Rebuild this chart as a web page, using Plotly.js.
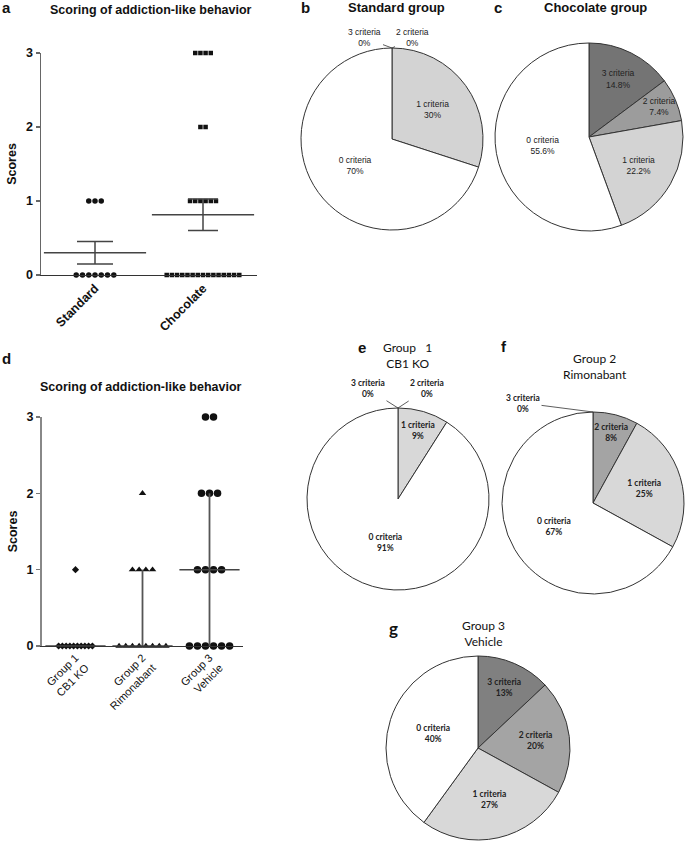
<!DOCTYPE html>
<html>
<head>
<meta charset="utf-8">
<script src="https://cdn.plot.ly/plotly-3.0.1.min.js"></script>
<style>html,body{margin:0;padding:0;background:#fff;}#chart{width:685px;height:841px;}</style>
</head>
<body>
<div id="chart"></div>
<script>
// ---------- DATA ----------
const groupsA = ['Standard', 'Chocolate'];
const standardScores = [0,0,0,0,0,0,0,1,1,1];
const chocolateScores = [0,0,0,0,0,0,0,0,0,0,0,0,0,0,0, 1,1,1,1,1,1, 2,2, 3,3,3,3];

const groupsD = ['Group 1<br>CB1 KO', 'Group 2<br>Rimonabant', 'Group 3<br>Vehicle'];
const group1Scores = [0,0,0,0,0,0,0,0,0,0, 1];
const group2Scores = [0,0,0,0,0,0,0,0, 1,1,1,1, 2];
const group3Scores = [0,0,0,0,0,0, 1,1,1,1, 2,2,2, 3,3];
const groupMedians = [0, 0, 1];
const groupQ1 = [0, 0, 0];
const groupQ3 = [0, 1, 2];

const criteriaLabels = ['3 criteria', '2 criteria', '1 criteria', '0 criteria'];
const pieStandard  = [0, 0, 30, 70];
const pieChocolate = [14.8, 7.4, 22.2, 55.6];
const pieGroup1    = [0, 0, 9, 91];
const pieGroup2    = [0, 8, 25, 67];
const pieGroup3    = [13, 20, 27, 40];

const yTicks = [0, 1, 2, 3];

// ---------- HELPERS ----------
const W = 685, H = 841;
const px = x => x / W;
const py = y => 1 - y / H;

function dotX(scores, center, step) {
  const counts = {}, seen = {};
  scores.forEach(s => { counts[s] = (counts[s] || 0) + 1; });
  return scores.map(s => {
    const k = seen[s] || 0;
    seen[s] = k + 1;
    return center + (k - (counts[s] - 1) / 2) * step;
  });
}
const mean = a => a.reduce((p, c) => p + c, 0) / a.length;
function sem(a) {
  const m = mean(a);
  const v = a.reduce((p, c) => p + (c - m) * (c - m), 0) / (a.length - 1);
  return Math.sqrt(v / a.length);
}

const ARIAL = 'Liberation Sans, Arial, sans-serif';
const CALI = 'Lato, Open Sans, sans-serif';
const DARK = '#111';

const traces = [];

// ---------- PANEL A ----------
traces.push({
  type: 'scatter', mode: 'markers', xaxis: 'x', yaxis: 'y', cliponaxis: false,
  x: dotX(standardScores, 0, 0.058), y: standardScores,
  marker: {symbol: 'circle', size: 5.5, color: DARK}, hoverinfo: 'skip'
});
traces.push({
  type: 'scatter', mode: 'markers', xaxis: 'x', yaxis: 'y', cliponaxis: false,
  x: dotX(chocolateScores, 1, 0.048), y: chocolateScores,
  marker: {symbol: 'square', size: 4.5, color: DARK}, hoverinfo: 'skip'
});
const scoreSets = [standardScores, chocolateScores];
const capWidths = [18, 15];
scoreSets.forEach((s, i) => {
  traces.push({
    type: 'scatter', mode: 'markers', xaxis: 'x', yaxis: 'y', cliponaxis: false,
    x: [i], y: [mean(s)],
    marker: {symbol: 'line-ew-open', size: 73, color: '#444', line: {width: 1.5, color: '#444'}},
    error_y: {type: 'data', array: [sem(s)], visible: true, width: capWidths[i], thickness: 1.5, color: '#444'},
    hoverinfo: 'skip'
  });
});

// ---------- PANEL D ----------
traces.push({
  type: 'scatter', mode: 'markers', xaxis: 'x2', yaxis: 'y2', cliponaxis: false,
  x: dotX(group1Scores, 0, 0.056), y: group1Scores,
  marker: {symbol: 'diamond', size: 5.5, color: DARK}, hoverinfo: 'skip'
});
traces.push({
  type: 'scatter', mode: 'markers', xaxis: 'x2', yaxis: 'y2', cliponaxis: false,
  x: dotX(group2Scores, 1, 0.1), y: group2Scores,
  marker: {symbol: 'triangle-up', size: 6.5, color: DARK}, hoverinfo: 'skip'
});
traces.push({
  type: 'scatter', mode: 'markers', xaxis: 'x2', yaxis: 'y2', cliponaxis: false,
  x: dotX(group3Scores, 2, 0.12), y: group3Scores,
  marker: {symbol: 'circle', size: 7.5, color: DARK}, hoverinfo: 'skip'
});
traces.push({
  type: 'scatter', mode: 'markers', xaxis: 'x2', yaxis: 'y2', cliponaxis: false,
  x: [0, 1, 2], y: groupMedians,
  marker: {symbol: 'line-ew-open', size: 43, color: '#444', line: {width: 1.5, color: '#444'}},
  error_y: {type: 'data', symmetric: false,
    array: groupQ3.map((q, i) => q - groupMedians[i]),
    arrayminus: groupQ1.map((q, i) => groupMedians[i] - q),
    visible: true, width: 0, thickness: 1.8, color: '#555'},
  hoverinfo: 'skip'
});

// ---------- PIES ----------
function pie(values, colors, cx, cy, r, family, weight) {
  return {
    type: 'pie', labels: criteriaLabels, values: values, sort: false,
    direction: 'clockwise', rotation: 0,
    domain: {x: [px(cx - r), px(cx + r)], y: [py(cy + r), py(cy - r)]},
    marker: {colors: colors, line: {color: '#333', width: 1}},
    text: values.map((v, i) => v > 0 ? criteriaLabels[i] + '<br>' + v + '%' : ''),
    textinfo: 'text', textposition: 'inside',
    insidetextorientation: 'horizontal',
    textfont: {family: family, size: 8.5, color: '#222', weight: weight},
    hoverinfo: 'skip', showlegend: false
  };
}
const grayA = ['#747474', '#9c9c9c', '#d3d3d3', '#ffffff'];
const grayB = ['#808080', '#a4a4a4', '#d8d8d8', '#ffffff'];
traces.push(pie(pieStandard, grayA, 392, 139, 91, ARIAL, 'normal'));
traces.push(pie(pieChocolate, grayA, 589, 137, 94, ARIAL, 'normal'));
traces.push(pie(pieGroup1, grayB, 398, 499, 91, CALI, 'bold'));
traces.push(pie(pieGroup2, grayB, 593, 503, 91, CALI, 'bold'));
traces.push(pie(pieGroup3, grayB, 478, 748, 92, CALI, 'bold'));

// ---------- ANNOTATIONS ----------
const ann = [];
function txt(text, x, y, size, family, weight, extra) {
  ann.push(Object.assign({
    text: text, x: px(x), y: py(y), xref: 'paper', yref: 'paper',
    showarrow: false, xanchor: 'center', yanchor: 'middle',
    font: {family: family, size: size, color: '#111', weight: weight}
  }, extra || {}));
}
// panel letters
txt('a', 6, 8, 15, ARIAL, 'bold');
txt('b', 305, 8, 15, ARIAL, 'bold');
txt('c', 498, 8, 15, ARIAL, 'bold');
txt('d', 6, 358, 15, ARIAL, 'bold');
txt('e', 362, 347, 15, ARIAL, 'bold');
txt('f', 504, 346, 15, ARIAL, 'bold');
txt('g', 393, 628, 17, CALI, 'bold');
// titles
txt('Scoring of addiction-like behavior', 151, 10, 12.5, ARIAL, 'bold');
txt('Scoring of addiction-like behavior', 141, 387, 12.5, ARIAL, 'bold');
txt('Standard group', 396, 8, 13, ARIAL, 'bold');
txt('Chocolate group', 595, 8, 13, ARIAL, 'bold');
txt('Group   1<br>CB1 KO', 407, 355, 12, CALI, 'normal');
txt('Group 2<br>Rimonabant', 595, 366, 12, CALI, 'normal');
txt('Group 3<br>Vehicle', 483, 633, 12, CALI, 'normal');

// zero-value slice labels with leader lines
function zeroLabel(values, idx, tipX, tipY, textX, textY, family) {
  ann.push({
    text: criteriaLabels[idx] + '<br>' + values[idx] + '%',
    x: px(tipX), y: py(tipY), xref: 'paper', yref: 'paper',
    ax: textX - tipX, ay: textY - tipY, showarrow: true, arrowhead: 0,
    arrowwidth: 0.8, arrowcolor: '#333',
    font: {family: family, size: 8.5, color: '#222', weight: family === CALI ? 'bold' : 'normal'}
  });
}
zeroLabel(pieStandard, 0, 392, 48, 365, 38, ARIAL);
zeroLabel(pieStandard, 1, 392, 48, 413, 38, ARIAL);
zeroLabel(pieGroup1, 0, 398, 408, 368, 389, CALI);
zeroLabel(pieGroup1, 1, 398, 408, 427, 389, CALI);
zeroLabel(pieGroup2, 0, 593, 412, 523, 403, CALI);

// ---------- LAYOUT ----------
const axisCommon = {
  showgrid: false, zeroline: false, showline: true, linecolor: '#666', linewidth: 1.5,
  fixedrange: true
};
const layout = {
  width: W, height: H, margin: {l: 0, r: 0, t: 0, b: 0},
  paper_bgcolor: '#fff', plot_bgcolor: 'rgba(0,0,0,0)', showlegend: false,
  uniformtext: {minsize: 8.5, mode: 'show'},
  xaxis: Object.assign({}, axisCommon, {
    domain: [px(41), px(257)], range: [-0.5, 1.5], anchor: 'y',
    tickvals: [0, 1], ticktext: groupsA, tickangle: -45, ticks: '',
    linecolor: '#333', linewidth: 1.2,
    tickfont: {family: ARIAL, size: 12.5, color: '#111', weight: 'bold'}
  }),
  yaxis: Object.assign({}, axisCommon, {
    domain: [py(275), py(53)], range: [0, 3], anchor: 'x',
    tickvals: yTicks, ticks: 'outside', ticklen: 4, tickcolor: '#666', tickwidth: 1.5,
    tickfont: {family: ARIAL, size: 12.5, color: '#111', weight: 'bold'},
    title: {text: 'Scores', font: {family: ARIAL, size: 12.5, color: '#111', weight: 'bold'}, standoff: 6}
  }),
  xaxis2: Object.assign({}, axisCommon, {
    domain: [px(42), px(243)], range: [-0.5, 2.5], anchor: 'y2',
    tickvals: [0, 1, 2], ticktext: groupsD, tickangle: -45, ticks: '',
    linecolor: '#333', linewidth: 1,
    tickfont: {family: ARIAL, size: 11, color: '#111'}
  }),
  yaxis2: Object.assign({}, axisCommon, {
    domain: [py(646), py(417)], range: [0, 3], anchor: 'x2',
    tickvals: yTicks, ticks: 'outside', ticklen: 4, tickcolor: '#777', tickwidth: 1.5,
    linecolor: '#888', linewidth: 2,
    tickfont: {family: ARIAL, size: 12.5, color: '#111', weight: 'bold'},
    title: {text: 'Scores', font: {family: ARIAL, size: 12.5, color: '#111', weight: 'bold'}, standoff: 6}
  }),
  annotations: ann
};

Plotly.newPlot('chart', traces, layout, {staticPlot: true, displayModeBar: false});
</script>
</body>
</html>
